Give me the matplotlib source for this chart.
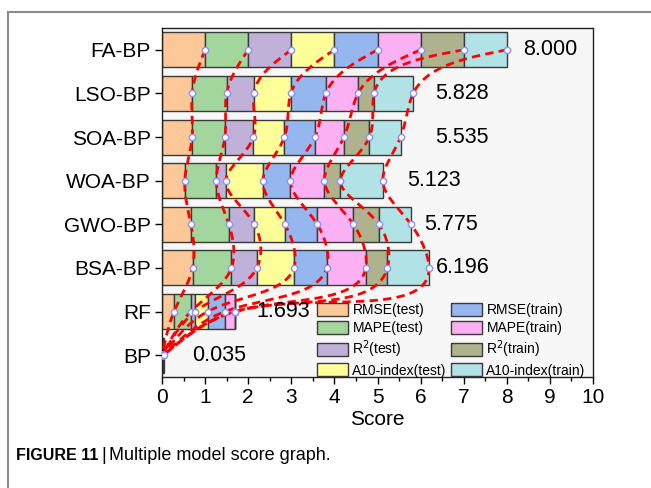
import numpy as np
import matplotlib
matplotlib.use("Agg")
import matplotlib.pyplot as plt
from matplotlib.patches import Rectangle, Patch

plt.rcParams['font.family'] = ['Liberation Sans', 'DejaVu Sans']

models = ['FA-BP', 'LSO-BP', 'SOA-BP', 'WOA-BP', 'GWO-BP', 'BSA-BP', 'RF', 'BP']
metrics = ['RMSE(test)', 'MAPE(test)', 'R$^2$(test)', 'A10-index(test)',
           'RMSE(train)', 'MAPE(train)', 'R$^2$(train)', 'A10-index(train)']
rmse_test = [1.0, 0.70, 0.70, 0.53, 0.67, 0.71, 0.28, 0.005]
mape_test = [1.0, 0.80, 0.76, 0.73, 0.88, 0.90, 0.39, 0.005]
r2_test = [1.0, 0.63, 0.66, 0.22, 0.59, 0.59, 0.10, 0.005]
a10_test = [1.0, 0.86, 0.72, 0.86, 0.71, 0.86, 0.29, 0.005]
rmse_train = [1.0, 0.81, 0.71, 0.64, 0.75, 0.76, 0.40, 0.005]
mape_train = [1.0, 0.75, 0.67, 0.79, 0.84, 0.91, 0.233, 0.005]
r2_train = [1.0, 0.37, 0.59, 0.37, 0.59, 0.50, 0.0, 0.0025]
a10_train = [1.0, 0.908, 0.725, 0.983, 0.745, 0.966, 0.0, 0.0025]
x_ticks = [0, 1, 2, 3, 4, 5, 6, 7, 8, 9, 10]

# layout / style
colors = ['#FDC897', '#A3D69D', '#C0B1D8', '#FFFF99',
          '#95B6EE', '#FDB1F5', '#AEB38E', '#B0E2E6']
label_x = [8.38, 6.33, 6.33, 5.69, 6.08, 6.36, 2.20, 0.70]

series = [rmse_test, mape_test, r2_test, a10_test,
          rmse_train, mape_train, r2_train, a10_train]
data = np.array(series)  # metrics x models
n = len(models)
ypos = np.arange(n)[::-1]  # FA-BP at top

W, H = 651, 488
fig = plt.figure(figsize=(W / 100, H / 100), dpi=100)
ax = fig.add_axes([162 / W, 1 - 377 / H, (593 - 162) / W, (377 - 28) / H])
ax.set_facecolor('#f6f7f6')

left = np.zeros(n)
for k in range(len(series)):
    ax.barh(ypos, data[k], left=left, height=0.8, color=colors[k],
            edgecolor='#3a3a3a', linewidth=1.0, label=metrics[k], zorder=2)
    left = left + data[k]

cum = np.cumsum(data, axis=0)  # boundaries


def natural_spline(tk, vk, ts):
    tk = np.asarray(tk, float)
    vk = np.asarray(vk, float)
    m = len(tk)
    h = np.diff(tk)
    A = np.zeros((m, m))
    b = np.zeros(m)
    A[0, 0] = 1
    A[-1, -1] = 1
    for i in range(1, m - 1):
        A[i, i - 1] = h[i - 1]
        A[i, i] = 2 * (h[i - 1] + h[i])
        A[i, i + 1] = h[i]
        b[i] = 6 * ((vk[i + 1] - vk[i]) / h[i] - (vk[i] - vk[i - 1]) / h[i - 1])
    M = np.linalg.solve(A, b)
    out = np.empty_like(ts)
    for j, t in enumerate(ts):
        i = min(max(np.searchsorted(tk, t) - 1, 0), m - 2)
        t1 = tk[i + 1] - t
        t0 = t - tk[i]
        hi = h[i]
        out[j] = (M[i] * t1 ** 3 / (6 * hi) + M[i + 1] * t0 ** 3 / (6 * hi)
                  + (vk[i] / hi - M[i] * hi / 6) * t1
                  + (vk[i + 1] / hi - M[i + 1] * hi / 6) * t0)
    return out


def param_spline(xk, yk, sx=43.1, sy=43.6, num=800):
    xk = np.asarray(xk, float)
    yk = np.asarray(yk, float)
    d = np.hypot(np.diff(xk) * sx, np.diff(yk) * sy)
    d = np.maximum(d, 1e-6)
    t = np.concatenate([[0], np.cumsum(d)])
    ts = np.linspace(0, t[-1], num)
    return natural_spline(t, xk, ts), natural_spline(t, yk, ts)


for k in range(len(series)):
    xs, ys = param_spline(cum[k], ypos)
    ax.plot(xs, ys, color='#ff0000', lw=2.0, linestyle=(0, (3.0, 1.9)),
            zorder=3, dash_capstyle='butt')
for k in range(len(series)):
    ax.plot(cum[k], ypos, linestyle='none', marker='o', ms=4.5,
            mfc='white', mec='#8f8fff', mew=1.0, zorder=4)

totals = cum[-1]
for i in range(n):
    ax.text(label_x[i], ypos[i], '%.3f' % totals[i], fontsize=15.5,
            ha='left', va='center', zorder=5)

ax.set_xlim(0, 10)
ax.set_ylim(-0.5, 7.5)
ax.set_xticks(x_ticks)
ax.set_xticks(np.arange(0.5, 10, 1), minor=True)
ax.set_yticks(ypos)
ax.set_yticklabels(models)
ax.tick_params(axis='both', which='major', direction='out', length=5,
               width=1, labelsize=15, pad=3)
ax.tick_params(axis='x', which='minor', direction='out', length=3, width=1)
ax.set_xlabel('Score', fontsize=15, labelpad=2)
for s in ax.spines.values():
    s.set_linewidth(1.0)
    s.set_color('#222222')

handles = [Patch(facecolor=colors[k], edgecolor='#3a3a3a', linewidth=1.0)
           for k in range(len(series))]
leg = ax.legend(handles, metrics, ncol=2, loc='upper left',
                bbox_to_anchor=((317 - 162) / 431, 1 - (303 - 28) / 349),
                frameon=False, fontsize=10, handlelength=2.25,
                handleheight=1.05, handletextpad=0.3, labelspacing=0.25,
                columnspacing=0.3, borderpad=0, borderaxespad=0)
leg.set_zorder(6)

# outer frame
fig.patches.append(Rectangle((8 / W, -0.2), 1.3, 1 - 12 / H + 0.2,
                             transform=fig.transFigure, fill=False,
                             edgecolor='#8a8a8a', linewidth=1.5))

fig.text(16 / W, 1 - 456 / H, 'FIGURE 11', fontsize=11.5, fontweight='bold',
         va='center')
fig.text(101 / W, 1 - 456 / H, '|', fontsize=13, va='center')
fig.text(109 / W, 1 - 456 / H, 'Multiple model score graph.', fontsize=13,
         va='center')

fig.savefig('out.png', dpi=100)
